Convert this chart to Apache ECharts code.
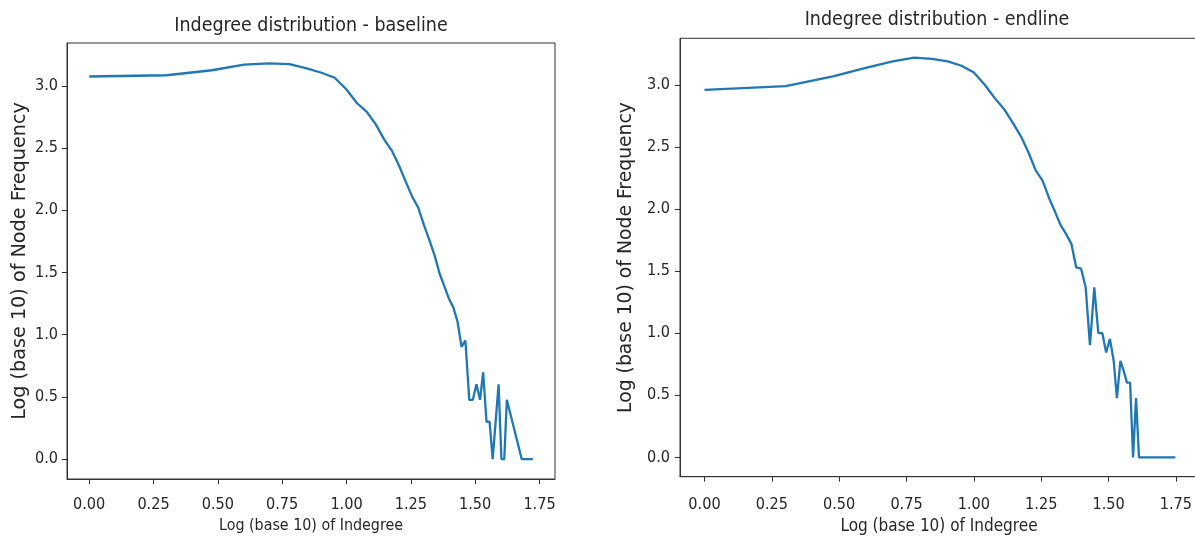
<!DOCTYPE html>
<html>
<head>
<meta charset="utf-8">
<script src="https://cdn.jsdelivr.net/npm/echarts@6/dist/echarts.min.js"></script>
<style>
html,body{margin:0;padding:0;background:#fff;}
#c{width:1195px;height:542px;}
</style>
</head>
<body>
<div id="c"></div>
<script>
// ---- chart data ----
const titles = ['Indegree distribution - baseline', 'Indegree distribution - endline'];
const xName = 'Log (base 10) of Indegree';
const yName = 'Log (base 10) of Node Frequency';
const xTicks = [0, 0.25, 0.5, 0.75, 1, 1.25, 1.5, 1.75];
const yTicks = [0, 0.5, 1, 1.5, 2, 2.5, 3];

const baseX = [0, 0.301, 0.477, 0.602, 0.699, 0.778, 0.845, 0.903, 0.954,
  1.0, 1.041, 1.079, 1.114, 1.146, 1.176, 1.204, 1.230, 1.255, 1.279,
  1.301, 1.322, 1.342, 1.362, 1.380, 1.398, 1.415, 1.431, 1.447, 1.462,
  1.477, 1.491, 1.505, 1.519, 1.531, 1.544, 1.556, 1.568,
  1.591, 1.602, 1.613, 1.623, 1.681, 1.724];
const baseY = [3.075, 3.085, 3.125, 3.17, 3.18, 3.175, 3.14, 3.105, 3.065,
  2.97, 2.86, 2.79, 2.69, 2.57, 2.48, 2.36, 2.23, 2.11, 2.02,
  1.88, 1.76, 1.64, 1.49, 1.39, 1.29, 1.22, 1.11, 0.903, 0.954,
  0.477, 0.477, 0.602, 0.477, 0.699, 0.301, 0.301, 0,
  0.602, 0, 0, 0.477, 0, 0];

const endX = [0, 0.301, 0.477, 0.602, 0.699, 0.778, 0.845, 0.903, 0.954,
  1.0, 1.041, 1.079, 1.114, 1.146, 1.176, 1.204, 1.230, 1.255, 1.279,
  1.301, 1.322, 1.342, 1.362, 1.380, 1.398, 1.415, 1.431, 1.447, 1.462,
  1.477, 1.491, 1.505, 1.519, 1.531, 1.544, 1.556, 1.568,
  1.580, 1.591, 1.602, 1.613, 1.748];
const endY = [2.96, 2.99, 3.07, 3.14, 3.19, 3.22, 3.21, 3.19, 3.155,
  3.10, 3.00, 2.89, 2.80, 2.69, 2.58, 2.45, 2.31, 2.23, 2.09,
  1.98, 1.87, 1.80, 1.72, 1.53, 1.52, 1.37, 0.903, 1.37, 1.0,
  1.0, 0.845, 0.954, 0.778, 0.477, 0.778, 0.699, 0.602,
  0.602, 0, 0.477, 0, 0];

// ---- font selection (condensed DejaVu if present, sized to same width) ----
function pickFont() {
  const ctx = document.createElement('canvas').getContext('2d');
  const s = 'Indegree distribution - baseline 0.50';
  ctx.font = '100px "DejaVu Sans"';
  const w0 = ctx.measureText(s).width;
  ctx.font = '100px "DejaVu Sans Condensed", monospace';
  const w1 = ctx.measureText(s).width;
  ctx.font = '100px monospace';
  const wm = ctx.measureText(s).width;
  if (Math.abs(w1 - wm) > 1 && w1 < w0 - 1) {
    return { family: '"DejaVu Sans Condensed", "DejaVu Sans", sans-serif', k: w0 / w1 };
  }
  return { family: '"DejaVu Sans", sans-serif', k: 1 };
}
const F = pickFont();
const plain = '"DejaVu Sans", sans-serif';
const lineCol = '#1f77b4';
const axisCol = '#333333';
const textCol = '#262626';

function pairs(xs, ys) { return xs.map((x, i) => [x, ys[i]]); }

function makeX(gi, min, max, nameSize, nameGap, labelMargin) {
  return {
    type: 'value', gridIndex: gi, min: min, max: max,
    name: xName, nameLocation: 'middle', nameGap: nameGap,
    nameTextStyle: { fontFamily: F.family, fontSize: nameSize * F.k, color: textCol },
    axisLine: { show: true, onZero: false, lineStyle: { color: axisCol, width: 1 } },
    axisTick: { show: true, inside: false, length: 5, customValues: xTicks,
      lineStyle: { color: axisCol, width: 1 } },
    axisLabel: { show: true, customValues: xTicks, margin: labelMargin,
      formatter: v => Number(v).toFixed(2),
      fontFamily: F.family, fontSize: 14.5 * F.k, color: textCol },
    splitLine: { show: false }
  };
}
function makeY(gi, min, max, nameSize, nameGap, labelMargin) {
  return {
    type: 'value', gridIndex: gi, min: min, max: max,
    name: yName, nameLocation: 'middle', nameGap: nameGap, nameRotate: 90,
    nameTextStyle: { fontFamily: plain, fontSize: nameSize, color: textCol },
    axisLine: { show: true, onZero: false, lineStyle: { color: axisCol, width: 1 } },
    axisTick: { show: true, inside: false, length: 5, customValues: yTicks,
      lineStyle: { color: axisCol, width: 1 } },
    axisLabel: { show: true, customValues: yTicks, margin: labelMargin,
      formatter: v => Number(v).toFixed(1),
      fontFamily: F.family, fontSize: 14.5 * F.k, color: textCol },
    splitLine: { show: false }
  };
}

const chart = echarts.init(document.getElementById('c'), null, { renderer: 'canvas' });
chart.setOption({
  animation: false,
  backgroundColor: '#ffffff',
  title: [
    { text: titles[0], left: 311, top: 15.5, textAlign: 'center', padding: 0,
      textStyle: { fontFamily: F.family, fontSize: 17.5 * F.k, fontWeight: 'normal', color: textCol, lineHeight: 20 } },
    { text: titles[1], left: 937, top: 9.7, textAlign: 'center', padding: 0,
      textStyle: { fontFamily: F.family, fontSize: 17.5 * F.k, fontWeight: 'normal', color: textCol, lineHeight: 20 } }
  ],
  grid: [
    { left: 67, top: 43, width: 488, height: 436, show: true, borderColor: axisCol, borderWidth: 1,
      backgroundColor: '#ffffff', containLabel: false, outerBoundsMode: 'none' },
    { left: 680, top: 38.3, width: 518, height: 438.4, show: true, borderColor: axisCol, borderWidth: 1,
      backgroundColor: '#ffffff', containLabel: false, outerBoundsMode: 'none' }
  ],
  xAxis: [
    makeX(0, -0.0862, 1.8102, 14.3, 36.7, 18.2),
    makeX(1, -0.0909, 1.832, 15.3, 38.5, 20.5)
  ],
  yAxis: [
    makeY(0, -0.159, 3.344, 19.2, 37.5, 9),
    makeY(1, -0.156, 3.376, 18.8, 44, 10)
  ],
  series: [
    { type: 'line', xAxisIndex: 0, yAxisIndex: 0, data: pairs(baseX, baseY),
      showSymbol: false, symbol: 'none', smooth: false,
      lineStyle: { color: lineCol, width: 2.3 }, itemStyle: { color: lineCol } },
    { type: 'line', xAxisIndex: 1, yAxisIndex: 1, data: pairs(endX, endY),
      showSymbol: false, symbol: 'none', smooth: false,
      lineStyle: { color: lineCol, width: 2.3 }, itemStyle: { color: lineCol } }
  ]
});
</script>
</body>
</html>
